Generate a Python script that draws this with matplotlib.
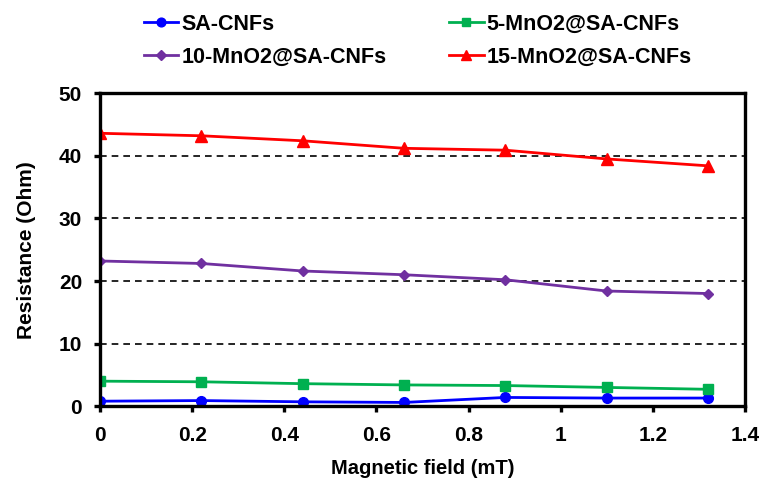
import matplotlib.pyplot as plt

plt.rcParams['font.family'] = ['Liberation Sans', 'DejaVu Sans']
plt.rcParams['font.weight'] = 'bold'

# Magnetic field sweep (mT) and measured resistance (Ohm)
field = [0, 0.22, 0.44, 0.66, 0.88, 1.1, 1.32]
sa_cnfs = [0.8, 0.9, 0.7, 0.6, 1.4, 1.3, 1.3]
mno2_5 = [4.0, 3.9, 3.6, 3.4, 3.3, 3.0, 2.7]
mno2_10 = [23.2, 22.8, 21.6, 21.0, 20.2, 18.4, 18.0]
mno2_15 = [43.6, 43.2, 42.4, 41.2, 40.9, 39.5, 38.4]

labels = ['SA-CNFs', '5-MnO2@SA-CNFs', '10-MnO2@SA-CNFs', '15-MnO2@SA-CNFs']

fig = plt.figure(figsize=(7.64, 4.83), dpi=100)
ax = fig.add_axes([0.131, 0.159, 0.844, 0.648])

l1, = ax.plot(field, sa_cnfs, color='#0000FF', marker='o', ms=7, lw=2, label=labels[0])
l2, = ax.plot(field, mno2_5, color='#00B050', marker='s', ms=7, lw=2, label=labels[1])
l3, = ax.plot(field, mno2_10, color='#7030A0', marker='D', ms=5.5, lw=2, label=labels[2])
l4, = ax.plot(field, mno2_15, color='#FF0000', marker='^', ms=8, lw=2, label=labels[3])

ax.set_xlim(0, 1.4)
ax.set_ylim(0, 50)
ax.set_xticks([0, 0.2, 0.4, 0.6, 0.8, 1.0, 1.2, 1.4])
ax.set_xticklabels(['0', '0.2', '0.4', '0.6', '0.8', '1', '1.2', '1.4'])
ax.set_yticks([0, 10, 20, 30, 40, 50])
ax.yaxis.grid(True, color='black', linestyle=(0, (4, 3)), lw=1.2)
ax.set_axisbelow(True)

for sp in ax.spines.values():
    sp.set_linewidth(2.4)
ax.tick_params(axis='both', direction='out', length=4, width=2.4, labelsize=15)
ax.tick_params(axis='x', pad=10)
ax.tick_params(axis='y', pad=9)

ax.set_xlabel('Magnetic field (mT)', fontsize=14.5, fontweight='bold', labelpad=10)
ax.set_ylabel('Resistance (Ohm)', fontsize=15, fontweight='bold', labelpad=16)

# two-column legend, filled row by row
fig.legend([l1, l3, l2, l4], [labels[0], labels[2], labels[1], labels[3]],
           loc='upper left', bbox_to_anchor=(0.163, 1.012), ncol=2, frameon=False,
           handlelength=1.6, handletextpad=0.15, columnspacing=2.9,
           labelspacing=0.55, markerscale=0.9,
           prop={'weight': 'bold', 'size': 15.5})

fig.savefig('out.png', dpi=100)
